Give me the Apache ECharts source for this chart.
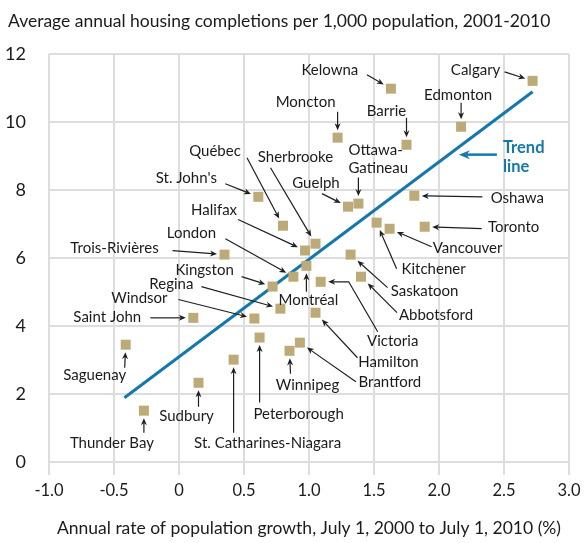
<!DOCTYPE html>
<html>
<head>
<meta charset="utf-8">
<script src="https://cdn.jsdelivr.net/npm/echarts@6/dist/echarts.min.js"></script>
<style>
  html, body { margin: 0; padding: 0; background: #fff; }
  #chart { width: 585px; height: 543px; }
</style>
</head>
<body>
<div id="chart"></div>
<script>
// data
const cities = [
  "Calgary", "Kelowna", "Edmonton", "Moncton", "Barrie", "Ottawa-Gatineau", "Guelph",
  "Oshawa", "St. John's", "Québec", "Kitchener", "Vancouver", "Toronto", "Sherbrooke",
  "Halifax", "Trois-Rivières", "Saskatoon", "Montréal", "London", "Abbotsford", "Victoria",
  "Kingston", "Regina", "Hamilton", "Windsor", "Saint John", "Saguenay", "Peterborough",
  "Brantford", "Winnipeg", "St. Catharines-Niagara", "Sudbury", "Thunder Bay"
];
const growth = [
  2.72, 1.63, 2.17, 1.22, 1.75, 1.38, 1.30,
  1.81, 0.61, 0.80, 1.52, 1.62, 1.89, 1.05,
  0.97, 0.35, 1.32, 0.98, 0.88, 1.40, 1.09,
  0.72, 0.78, 1.05, 0.58, 0.11, -0.41, 0.62,
  0.93, 0.85, 0.42, 0.15, -0.27
];
const completions = [
  11.21, 10.98, 9.86, 9.54, 9.33, 7.60, 7.51,
  7.83, 7.80, 6.95, 7.04, 6.86, 6.92, 6.42,
  6.22, 6.10, 6.10, 5.77, 5.45, 5.45, 5.30,
  5.16, 4.51, 4.39, 4.22, 4.24, 3.45, 3.66,
  3.51, 3.27, 3.01, 2.33, 1.51
];
const trendGrowth = [-0.42, 2.72];
const trendCompletions = [1.89, 10.89];

const titleText = "Average annual housing completions per 1,000 population, 2001-2010";
const xName = "Annual rate of population growth, July 1, 2000 to July 1, 2010 (%)";

// label placement, pixel offsets from each square: [textDx, textDy, arrowStartDx, arrowStartDy]
const labelLayout = {
  "Calgary": [-57, -11, -28, -9],
  "Kelowna": [-61, -19, -24, -14],
  "Edmonton": [-3, -32, 0, -24],
  "Moncton": [-32, -35, 0, -26],
  "Barrie": [-20, -34, 0, -27],
  "Ottawa-Gatineau": [18, -44, 0, -26],
  "Guelph": [-32, -24, -26, -13],
  "Oshawa": [103, 2, 68, 1],
  "St. John's": [-72, -19, -33, -13],
  "Québec": [-68, -75, -36, -68],
  "Kitchener": [57, 47, 20, 46],
  "Vancouver": [78, 19, 42, 18],
  "Toronto": [89, 0, 57, 2],
  "Sherbrooke": [-20, -87, -45, -76],
  "Halifax": [-91, -40, -67, -31],
  "Trois-Rivières": [-110, -6, -52, -4],
  "Saskatoon": [74, 37, 37, 33],
  "Montréal": [2, 34, 0, 26],
  "London": [-102, -44, -68, -38],
  "Abbotsford": [75, 38, 36, 36],
  "Victoria": [72, 59, 57, 50],
  "Kingston": [-68, -16, -31, -10],
  "Regina": [-109, -25, -79, -22],
  "Hamilton": [73, 49, 42, 45],
  "Windsor": [-115, -20, -76, -19],
  "Saint John": [-86, -1, -43, 0],
  "Saguenay": [-31, 30, -1, 23],
  "Peterborough": [39, 77, 0, 65],
  "Brantford": [90, 39, 56, 39],
  "Winnipeg": [18, 34, 1, 23],
  "St. Catharines-Niagara": [34, 83, 0, 73],
  "Sudbury": [-12, 33, 0, 24],
  "Thunder Bay": [-32, 32, 0, 22]
};
// bent leader for Victoria goes through this point before reaching the square
const bends = { "Victoria": [28, 0] };
const displayNames = { "Ottawa-Gatineau": "Ottawa-\nGatineau" };

const textColor = "#1c1a1b";
const gridColor = "#dddddd";
const squareColor = "#bcaa78";
const trendColor = "#1478ad";
const fontFamily = "Lato, 'Open Sans', sans-serif";

const chart = echarts.init(document.getElementById("chart"));

chart.setOption({
  animation: false,
  backgroundColor: "#fff",
  title: {
    text: titleText,
    left: 3,
    top: 7,
    textStyle: { fontSize: 17.5, fontWeight: "normal", color: textColor, fontFamily }
  },
  grid: { left: 49, right: 16, top: 54, bottom: 81 },
  xAxis: {
    type: "value",
    min: -1,
    max: 3,
    interval: 0.5,
    name: xName,
    nameLocation: "middle",
    nameGap: 57,
    nameTextStyle: { fontSize: 17.5, color: textColor, fontFamily },
    axisLine: { show: false },
    axisTick: { show: true, length: 13, lineStyle: { color: gridColor, width: 2 } },
    axisLabel: {
      margin: 20,
      fontSize: 16.5,
      color: textColor,
      fontFamily,
      formatter: (v) => (v === 0 ? "0" : v.toFixed(1))
    },
    splitLine: { show: true, lineStyle: { color: gridColor, width: 2 } }
  },
  yAxis: {
    type: "value",
    min: 0,
    max: 12,
    interval: 2,
    axisLine: { show: false },
    axisTick: { show: true, length: 16, lineStyle: { color: gridColor, width: 2 } },
    axisLabel: { margin: 23, fontSize: 18, color: textColor, fontFamily },
    splitLine: { show: true, lineStyle: { color: gridColor, width: 2 } }
  },
  series: [
    {
      type: "line",
      data: trendGrowth.map((x, i) => [x, trendCompletions[i]]),
      symbol: "none",
      lineStyle: { color: trendColor, width: 3 },
      z: 2
    },
    {
      type: "scatter",
      data: growth.map((x, i) => [x, completions[i]]),
      symbol: "rect",
      symbolSize: 10,
      itemStyle: { color: squareColor, opacity: 1 },
      z: 3
    }
  ]
});

function arrowShapes(points, color, width, headLen, headHalf) {
  const n = points.length;
  const a = points[n - 2];
  const b = points[n - 1];
  const dx = b[0] - a[0];
  const dy = b[1] - a[1];
  const len = Math.hypot(dx, dy);
  const ux = dx / len;
  const uy = dy / len;
  const base = [b[0] - ux * headLen, b[1] - uy * headLen];
  const notch = [b[0] - ux * headLen * 0.7, b[1] - uy * headLen * 0.7];
  const left = [base[0] - uy * headHalf, base[1] + ux * headHalf];
  const right = [base[0] + uy * headHalf, base[1] - ux * headHalf];
  const linePts = points.slice(0, n - 1).concat([notch]);
  return [
    {
      type: "polyline",
      shape: { points: linePts },
      style: { stroke: color, lineWidth: width, fill: null },
      z: 10
    },
    {
      type: "polygon",
      shape: { points: [b, left, notch, right] },
      style: { fill: color, stroke: null },
      z: 10
    }
  ];
}

function annotate() {
  const elements = [];
  cities.forEach((name, i) => {
    const L = labelLayout[name];
    const p = chart.convertToPixel({ gridIndex: 0 }, [growth[i], completions[i]]);
    const multi = displayNames[name];
    elements.push({
      type: "text",
      x: multi ? p[0] - 10 : p[0] + L[0],
      y: p[1] + L[1],
      style: {
        text: multi || name,
        fill: textColor,
        font: "15px " + fontFamily,
        align: multi ? "left" : "center",
        verticalAlign: "middle",
        lineHeight: 18
      },
      z: 11
    });
    const start = [p[0] + L[2], p[1] + L[3]];
    const pts = [start];
    if (bends[name]) pts.push([p[0] + bends[name][0], p[1] + bends[name][1]]);
    const prev = pts[pts.length - 1];
    const dx = p[0] - prev[0];
    const dy = p[1] - prev[1];
    const len = Math.hypot(dx, dy);
    const ux = dx / len;
    const uy = dy / len;
    const gap = 5 / Math.max(Math.abs(ux), Math.abs(uy)) + 2.5;
    pts.push([p[0] - ux * gap, p[1] - uy * gap]);
    elements.push(...arrowShapes(pts, "#1e1e1e", 1.2, 7, 3));
  });

  // trend line callout
  const t = chart.convertToPixel({ gridIndex: 0 }, [2.076, 9.04]);
  elements.push(...arrowShapes([[t[0] + 48, t[1]], [t[0] + 10, t[1]]], trendColor, 2.5, 11, 4.5));
  elements.push({
    type: "text",
    x: t[0] + 54,
    y: t[1] + 3,
    style: {
      text: "Trend\nline",
      fill: trendColor,
      font: "bold 16.5px " + fontFamily,
      align: "left",
      verticalAlign: "middle",
      lineHeight: 19
    },
    z: 11
  });

  chart.setOption({ graphic: { elements } });
}

annotate();
</script>
</body>
</html>
